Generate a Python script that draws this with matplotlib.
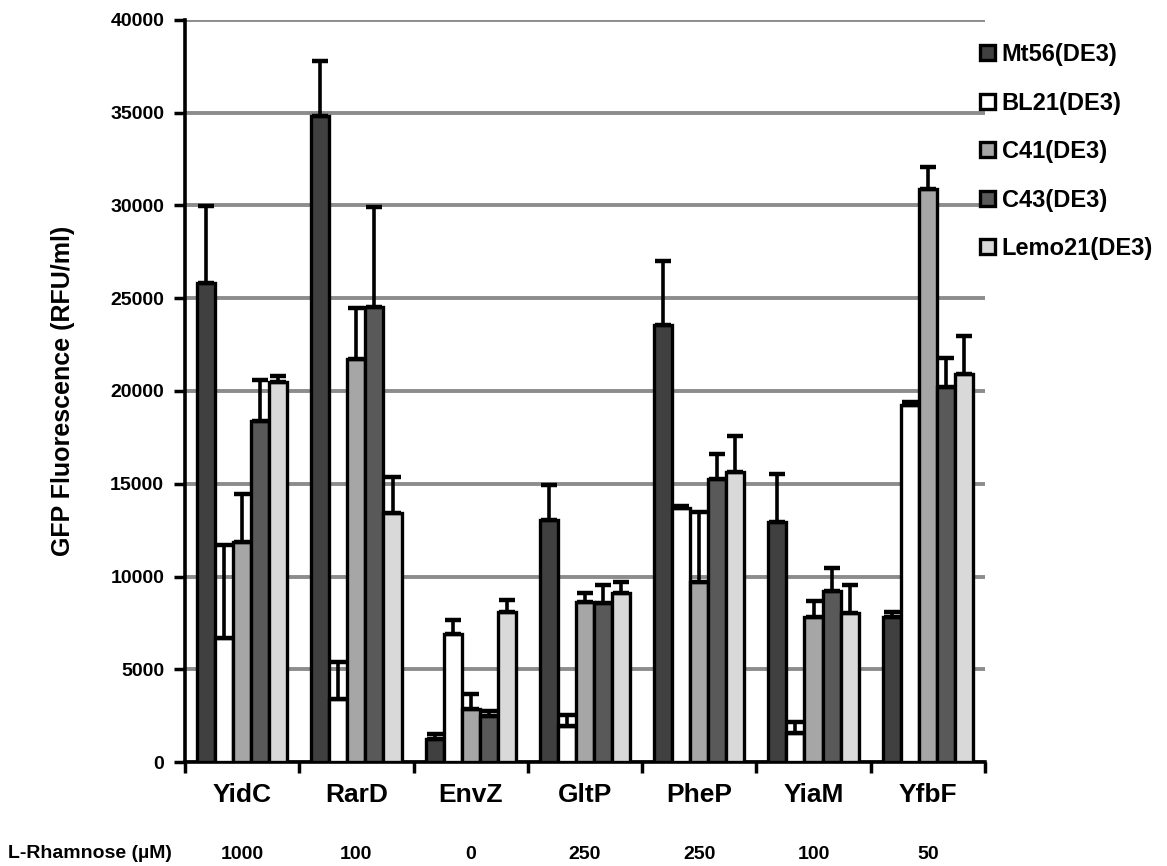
"""GFP fluorescence per membrane protein across expression strains."""

import matplotlib.pyplot as plt
import numpy as np

plt.rcParams["font.family"] = ["Liberation Sans", "DejaVu Sans"]
plt.rcParams["font.weight"] = "bold"

proteins = ["YidC", "RarD", "EnvZ", "GltP", "PheP", "YiaM", "YfbF"]
rhamnose = ["1000", "100", "0", "250", "250", "100", "50"]
strains = ["Mt56(DE3)", "BL21(DE3)", "C41(DE3)", "C43(DE3)", "Lemo21(DE3)"]

mt56 = [25800, 34800, 1250, 13050, 23550, 12950, 7800]
bl21 = [6700, 3400, 6900, 1950, 13700, 1550, 19250]
c41 = [11850, 21700, 2850, 8650, 9700, 7800, 30900]
c43 = [18400, 24550, 2500, 8550, 15250, 9200, 20200]
lemo21 = [20500, 13400, 8100, 9100, 15650, 8050, 20900]

mt56_err = [4150, 3000, 250, 1900, 3450, 2600, 300]
bl21_err = [5000, 2000, 750, 600, 80, 600, 150]
c41_err = [2600, 2800, 800, 450, 3800, 900, 1150]
c43_err = [2200, 5350, 250, 1000, 1350, 1250, 1600]
lemo21_err = [300, 1950, 650, 600, 1950, 1500, 2050]

values = [mt56, bl21, c41, c43, lemo21]
errors = [mt56_err, bl21_err, c41_err, c43_err, lemo21_err]
colors = ["#404040", "#ffffff", "#a6a6a6", "#595959", "#d9d9d9"]

fig = plt.figure(figsize=(11.67, 8.66), dpi=100)
ax = fig.add_axes([0.1585, 0.12, 0.6855, 0.857])

x = np.arange(len(proteins))
width = 0.158
for i, (vals, errs, color, label) in enumerate(zip(values, errors, colors, strains)):
    pos = x + (i - 2) * width
    ax.bar(pos, vals, width, color=color, edgecolor="black", linewidth=2.4,
           label=label, zorder=3)
    ax.errorbar(pos, vals, yerr=[np.zeros(len(vals)), errs], fmt="none",
                ecolor="black", elinewidth=2.6, capsize=6, capthick=3.2, zorder=4)

ax.set_xlim(-0.5, len(proteins) - 0.5)
ax.set_ylim(0, 40000)
ax.set_yticks(np.arange(0, 40001, 5000))
ax.tick_params(axis="y", labelsize=14, width=2.5, length=8, pad=7)
ax.yaxis.grid(True, color="#8c8c8c", linewidth=2.8, zorder=0)
ax.set_axisbelow(True)

ax.set_xticks(np.arange(-0.5, len(proteins)))
ax.set_xticklabels([])
ax.tick_params(axis="x", width=2.5, length=8)
for xi, name, conc in zip(x, proteins, rhamnose):
    ax.text(xi, -0.045, name, transform=ax.get_xaxis_transform(), ha="center",
            va="center", fontsize=19, fontweight="bold")
    ax.text(xi, -0.125, conc, transform=ax.get_xaxis_transform(), ha="center",
            va="center", fontsize=14, fontweight="bold")
fig.text(0.007, 0.014, "L-Rhamnose (µM)", ha="left", va="center",
         fontsize=14, fontweight="bold")

ax.set_ylabel("GFP Fluorescence (RFU/ml)", fontsize=18, fontweight="bold")
ax.yaxis.set_label_coords(-0.1375, 0.5)

for side in ["top", "right"]:
    ax.spines[side].set_visible(False)
for side in ["left", "bottom"]:
    ax.spines[side].set_linewidth(2.6)

fig.legend(loc="upper left", bbox_to_anchor=(0.832, 0.961), frameon=False,
           fontsize=17, handlelength=0.6, handleheight=0.6,
           handletextpad=0.3, labelspacing=1.08, borderaxespad=0)

fig.savefig("out.png", dpi=100)
